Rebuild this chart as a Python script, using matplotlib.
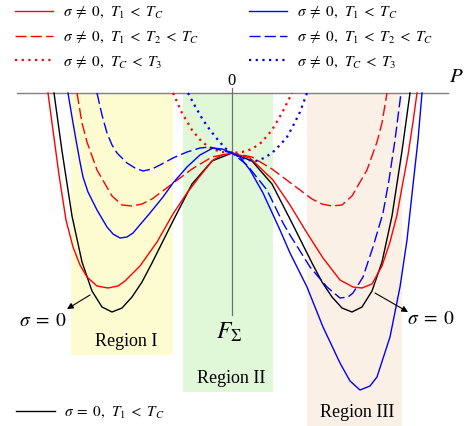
import numpy as np
import matplotlib
matplotlib.use("Agg")
import matplotlib.pyplot as plt
from matplotlib.lines import Line2D

plt.rcParams['font.family'] = ['Liberation Serif', 'DejaVu Serif']
plt.rcParams['mathtext.fontset'] = 'stix'

# curves: polarization P, free energy F
p_black = [-1.78, -1.70, -1.60, -1.50, -1.40, -1.30, -1.20, -1.10, -1.00, -0.90, -0.80, -0.60, -0.40, -0.20, 0.00,
           0.20, 0.40, 0.60, 0.80, 0.90, 1.00, 1.10, 1.20, 1.30, 1.40, 1.50, 1.60, 1.70, 1.78]
f_black = [0.00, -0.58, -1.23, -1.69, -1.98, -2.14, -2.19, -2.15, -2.04, -1.89, -1.70, -1.30, -0.91, -0.68, -0.60,
           -0.68, -0.91, -1.30, -1.70, -1.89, -2.04, -2.15, -2.19, -2.14, -1.98, -1.69, -1.23, -0.58, 0.00]

p_red = [-1.84, -1.73, -1.66, -1.59, -1.52, -1.45, -1.35, -1.24, -1.14, -1.07, -0.92, -0.75, -0.59, -0.45, -0.32,
         -0.19, -0.10, 0.00, 0.18, 0.41, 0.58, 0.75, 0.91, 1.08, 1.21, 1.30, 1.40, 1.50, 1.58, 1.65, 1.71,
         1.76, 1.81, 1.85]
f_red = [0.00, -0.82, -1.27, -1.54, -1.72, -1.84, -1.93, -1.95, -1.93, -1.88, -1.73, -1.49, -1.21, -1.00, -0.83,
         -0.67, -0.62, -0.60, -0.65, -0.87, -1.12, -1.40, -1.65, -1.87, -1.94, -1.95, -1.91, -1.73, -1.49, -1.22,
         -0.89, -0.62, -0.29, 0.00]

p_red_dash = [-1.55, -1.50, -1.45, -1.35, -1.20, -1.10, -1.00, -0.90, -0.80, -0.60, -0.40, -0.20, 0.00,
              0.20, 0.40, 0.60, 0.80, 0.90, 1.00, 1.10, 1.20, 1.35, 1.45, 1.50, 1.55]
f_red_dash = [0.00, -0.30, -0.49, -0.77, -1.03, -1.12, -1.13, -1.11, -1.06, -0.91, -0.76, -0.64, -0.60,
              -0.64, -0.76, -0.91, -1.06, -1.11, -1.13, -1.12, -1.03, -0.77, -0.49, -0.30, 0.00]

p_red_dot = [-0.59, -0.50, -0.40, -0.30, -0.20, -0.10, 0.00, 0.10, 0.20, 0.30, 0.40, 0.50, 0.60]
f_red_dot = [0.00, -0.20, -0.37, -0.49, -0.56, -0.59, -0.60, -0.59, -0.56, -0.49, -0.37, -0.20, 0.00]

p_blue = [-1.64, -1.60, -1.56, -1.52, -1.49, -1.44, -1.35, -1.25, -1.19, -1.12, -1.05, -0.99, -0.82, -0.69,
          -0.59, -0.45, -0.32, -0.19, -0.10, 0.00, 0.08, 0.18, 0.31, 0.48, 0.58, 0.75, 0.91, 1.08, 1.18, 1.28,
          1.38, 1.45, 1.58, 1.68, 1.75, 1.81, 1.86, 1.90]
f_blue = [0.00, -0.24, -0.47, -0.69, -0.84, -0.99, -1.17, -1.34, -1.41, -1.45, -1.44, -1.40, -1.20, -1.04,
          -0.90, -0.74, -0.62, -0.55, -0.56, -0.60, -0.64, -0.77, -1.00, -1.37, -1.60, -1.94, -2.34, -2.70, -2.88,
          -2.97, -2.93, -2.84, -2.44, -1.94, -1.47, -0.92, -0.47, 0.00]

p_blue_dash = [-1.35, -1.30, -1.25, -1.20, -1.15, -1.05, -0.97, -0.89, -0.80, -0.72, -0.59, -0.45, -0.32, -0.22,
               -0.12, 0.00, 0.15, 0.35, 0.51, 0.58, 0.78, 0.95, 1.08, 1.16, 1.21, 1.31, 1.41, 1.51, 1.57, 1.63, 1.69]
f_blue_dash = [0.00, -0.22, -0.40, -0.52, -0.60, -0.70, -0.75, -0.78, -0.76, -0.72, -0.65, -0.59, -0.55, -0.54,
               -0.57, -0.60, -0.72, -0.97, -1.30, -1.42, -1.74, -1.94, -2.05, -2.04, -2.00, -1.84, -1.54, -1.20,
               -0.87, -0.47, 0.00]

p_blue_dot = [-0.44, -0.37, -0.29, -0.22, -0.14, -0.07, 0.00, 0.08, 0.16, 0.24, 0.32, 0.40, 0.48, 0.55, 0.61,
              0.68, 0.75]
f_blue_dot = [0.00, -0.13, -0.27, -0.37, -0.47, -0.55, -0.60, -0.64, -0.67, -0.68, -0.65, -0.60, -0.52, -0.44,
              -0.33, -0.19, 0.00]

# shaded regions (P range) and their labels
region_names = ['Region I', 'Region II', 'Region III']
region_p = [(-1.61, -0.59), (-0.49, 0.41), (0.75, 1.70)]
region_colors = ['#fdfbd0', '#e0f8d7', '#fbf0e6']

fig = plt.figure(figsize=(4.68, 4.26), dpi=100)
ax = fig.add_axes([0, 0, 1, 1])
ax.set_xlim(-2.32, 2.36)
ax.set_ylim(-3.33, 0.93)
ax.axis('off')

region_ymin = [0.167, 0.080, 0.0]
for (p0, p1), c, ym in zip(region_p, region_colors, region_ymin):
    ax.axvspan(p0, p1, ymin=ym, ymax=0.782, color=c, lw=0, zorder=0)

ax.axhline(0, xmin=0.036, xmax=0.957, color='#808080', lw=1.0, zorder=1)
ax.axvline(0, ymin=0.261, ymax=0.793, color='#707070', lw=0.9, zorder=1)

lw = 1.0
dash = (0, (8, 3))
dot = (0, (1, 2))
ax.plot(p_black, f_black, color='black', lw=lw, zorder=3)
ax.plot(p_red, f_red, color='red', lw=lw, zorder=3)
ax.plot(p_red_dash, f_red_dash, color='red', lw=lw, ls=dash, zorder=3)
ax.plot(p_red_dot, f_red_dot, color='red', lw=1.6, ls=dot, zorder=3)
ax.plot(p_blue, f_blue, color='blue', lw=lw, zorder=3)
ax.plot(p_blue_dash, f_blue_dash, color='blue', lw=lw, ls=dash, zorder=3)
ax.plot(p_blue_dot, f_blue_dot, color='blue', lw=1.6, ls=dot, zorder=3)

# labels
ax.text(0, 0.12, '0', ha='center', va='center', fontsize=12)
ax.text(2.24, 0.15, '$P$', ha='center', va='center', fontsize=15)
ax.text(-0.03, -2.39, r'$F_{\Sigma}$', ha='center', va='center', fontsize=17)
label_pos = [(-1.06, -2.49), (-0.01, -2.86), (1.25, -3.20)]
for name, (x, y) in zip(region_names, label_pos):
    ax.text(x, y, name, ha='center', va='center', fontsize=13)

arrow = dict(arrowstyle='-|>', color='black', lw=0.8, mutation_scale=9, shrinkA=0, shrinkB=0)
ax.annotate('', xy=(-1.65, -2.16), xytext=(-1.42, -2.02), arrowprops=arrow)
ax.annotate('', xy=(1.76, -2.19), xytext=(1.43, -2.00), arrowprops=arrow)
ax.text(-1.89, -2.29, r'$\sigma\;=\;0$', ha='center', va='center', fontsize=14)
ax.text(1.99, -2.27, r'$\sigma\;=\;0$', ha='center', va='center', fontsize=14)

# legends
handles = [
    Line2D([], [], color='red', lw=lw),
    Line2D([], [], color='red', lw=lw, ls=dash),
    Line2D([], [], color='red', lw=1.6, ls=dot),
    Line2D([], [], color='blue', lw=lw),
    Line2D([], [], color='blue', lw=lw, ls=dash),
    Line2D([], [], color='blue', lw=1.6, ls=dot),
]
labels = [r'$\sigma\;\neq\;0,\;\, T_1\;<\;T_C$', r'$\sigma\;\neq\;0,\;\, T_1\;<\;T_2\;<\;T_C$',
          r'$\sigma\;\neq\;0,\;\, T_C\;<\;T_3$'] * 2
leg = ax.legend(handles, labels, ncol=2, loc='upper left', bbox_to_anchor=(0.012, 1.012), frameon=False,
                fontsize=11, handlelength=2.5, handletextpad=0.65, columnspacing=3.3, labelspacing=0.55,
                borderaxespad=0.2)
ax.add_artist(leg)
ax.legend([Line2D([], [], color='black', lw=lw)], [r'$\sigma\;=\;0,\;\, T_1\;<\;T_C$'], loc='lower left',
          bbox_to_anchor=(0.012, -0.012), frameon=False, fontsize=11, handlelength=2.5, handletextpad=0.65,
          borderaxespad=0.3)

fig.savefig('out.png', dpi=100)
